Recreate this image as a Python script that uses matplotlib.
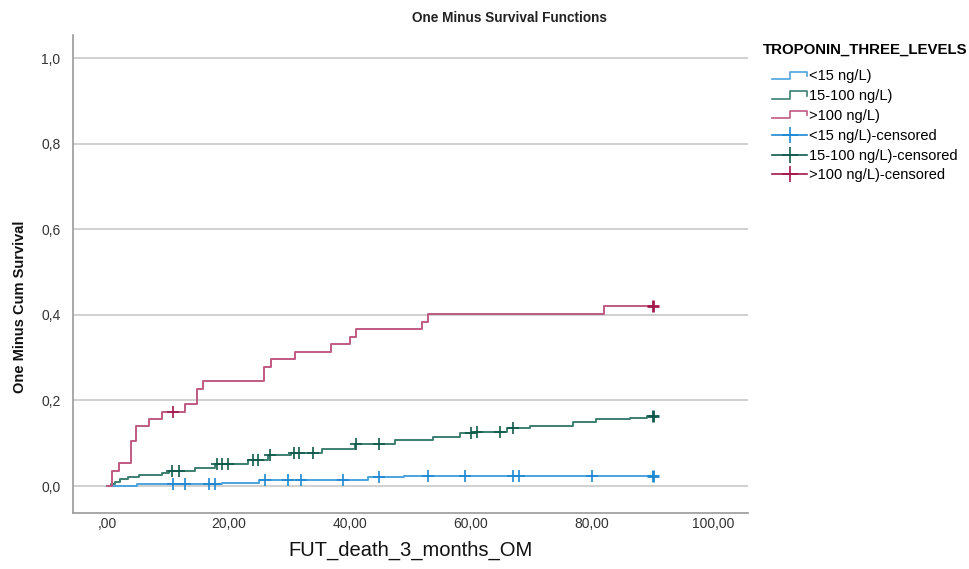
import numpy as np
import matplotlib
matplotlib.use("Agg")
import matplotlib.pyplot as plt
from matplotlib.lines import Line2D
from matplotlib.legend_handler import HandlerBase

plt.rcParams['font.family'] = ['Liberation Sans', 'DejaVu Sans']

# event times / cumulative 1 - S(t)
low_t = [0, 4.9, 18.9, 25.0, 43.1, 48.9, 90]
low_y = [0, 0.004, 0.008, 0.015, 0.020, 0.023, 0.023]
low_cens = [10.9, 12.9, 16.9, 17.8, 26.1, 29.8, 32.0, 39.0, 44.9, 53.0, 59.0,
            67.0, 68.0, 80.0, 90.0]

mid_t = [0, 0.6, 1.3, 2.1, 3.5, 5.2, 9.0, 10.2, 14.5, 17.8, 23.3, 26.6, 30.4,
         35.4, 40.9, 47.5, 53.8, 58.2, 60.5, 66.0, 69.7, 76.9, 80.7, 86.2, 89.0, 90]
mid_y = [0, 0.005, 0.010, 0.016, 0.022, 0.025, 0.030, 0.036, 0.043, 0.051,
         0.061, 0.072, 0.078, 0.086, 0.098, 0.107, 0.114, 0.123, 0.127, 0.135,
         0.140, 0.150, 0.156, 0.160, 0.164, 0.164]
mid_cens = [10.8, 11.8, 18.1, 18.9, 19.9, 24.1, 24.9, 26.9, 30.9, 31.7, 34.0,
            41.0, 44.9, 60.0, 61.0, 64.8, 67.0, 90.0]

high_t = [0, 0.8, 1.9, 3.9, 4.8, 6.9, 9.0, 12.9, 14.8, 15.9, 25.9, 27.0, 31.0,
          36.9, 40.1, 41.1, 52.0, 53.0, 82.0, 90]
high_y = [0, 0.036, 0.053, 0.106, 0.140, 0.157, 0.174, 0.191, 0.226, 0.245,
          0.279, 0.296, 0.314, 0.332, 0.349, 0.366, 0.384, 0.402, 0.421, 0.421]
high_cens = [10.9, 90.0]

labels = ['<15 ng/L)', '15-100 ng/L)', '>100 ng/L)']
line_colors = ['#4ba3dd', '#3d7f72', '#c05a82']
cens_colors = ['#1f88d2', '#0f5a4c', '#a3184f']

y_ticks = [0.0, 0.2, 0.4, 0.6, 0.8, 1.0]
y_ticklabels = ['0,0', '0,2', '0,4', '0,6', '0,8', '1,0']
x_ticks = [0, 20, 40, 60, 80, 100]
x_ticklabels = [',00', '20,00', '40,00', '60,00', '80,00', '100,00']


class StepHandler(HandlerBase):
    def create_artists(self, legend, orig_handle, xd, yd, w, h, fontsize, trans):
        xs = [xd, xd + w * 0.5, xd + w * 0.5, xd + w, xd + w]
        ys = [yd + h * 0.15, yd + h * 0.15, yd + h * 0.85, yd + h * 0.85, yd + h * 0.45]
        ln = Line2D(xs, ys, color=orig_handle.get_color(), lw=1.2, transform=trans)
        return [ln]


fig = plt.figure(figsize=(9.7, 5.69), dpi=100)
ax = fig.add_axes([0.0753, 0.0984, 0.6958, 0.8401])

series = [(low_t, low_y, low_cens), (mid_t, mid_y, mid_cens), (high_t, high_y, high_cens)]
line_handles = []
for (t, y, cens), lc, cc, lab in zip(series, line_colors, cens_colors, labels):
    h, = ax.step(t, y, where='post', color=lc, lw=1.4, zorder=3)
    line_handles.append(h)
    idx = np.searchsorted(t, cens, side='right') - 1
    cy = np.array(y)[idx]
    big = np.array(cens) >= 89.9
    ax.plot(np.array(cens)[~big], cy[~big], '+', color=cc, ms=8, mew=1.2, zorder=4)
    ax.plot(np.array(cens)[big], cy[big], '+', color=cc, ms=9, mew=2.0, zorder=4)

ax.set_xlim(-5.6, 105.7)
ax.set_ylim(-0.063, 1.054)
ax.set_yticks(y_ticks)
ax.set_yticklabels(y_ticklabels)
ax.set_xticks(x_ticks)
ax.set_xticklabels(x_ticklabels)
ax.tick_params(length=0, labelsize=10, colors='#333333')
ax.tick_params(axis='y', pad=9)
ax.tick_params(axis='x', pad=3)
ax.grid(axis='y', color='#c8c8c8', lw=1.2)
ax.set_axisbelow(True)
for s in ['top', 'right']:
    ax.spines[s].set_visible(False)
for s in ['left', 'bottom']:
    ax.spines[s].set_color('#9a9a9a')
    ax.spines[s].set_linewidth(1.2)

ax.set_title('One Minus Survival Functions', fontsize=9.8, fontweight='bold',
             color='#222222', x=0.647, pad=9)
ax.set_ylabel('One Minus Cum Survival', fontsize=10.5, fontweight='bold',
              color='#111111')
ax.yaxis.set_label_coords(-0.068, 0.431)
ax.set_xlabel('FUT_death_3_months_OM', fontsize=14.5, color='#111111')
ax.xaxis.set_label_coords(0.5, -0.057)

cens_handles = [Line2D([0], [0], color=c, lw=1.2, marker='+', ms=11, mew=1.2)
                for c in cens_colors]
handler_map = {h: StepHandler() for h in line_handles}
leg = fig.legend(line_handles + cens_handles,
                 labels + [l + '-censored' for l in labels],
                 loc='upper left', bbox_to_anchor=(0.780, 0.935),
                 title='TROPONIN_THREE_LEVELS', frameon=False, fontsize=10.5,
                 handlelength=2.4, handletextpad=0.1, labelspacing=0.4,
                 handler_map=handler_map, alignment='center', borderaxespad=0)
leg.get_title().set_fontweight('bold')
leg.get_title().set_fontsize(10.8)
leg._legend_box.sep = 9

fig.savefig('out.png', dpi=100)
